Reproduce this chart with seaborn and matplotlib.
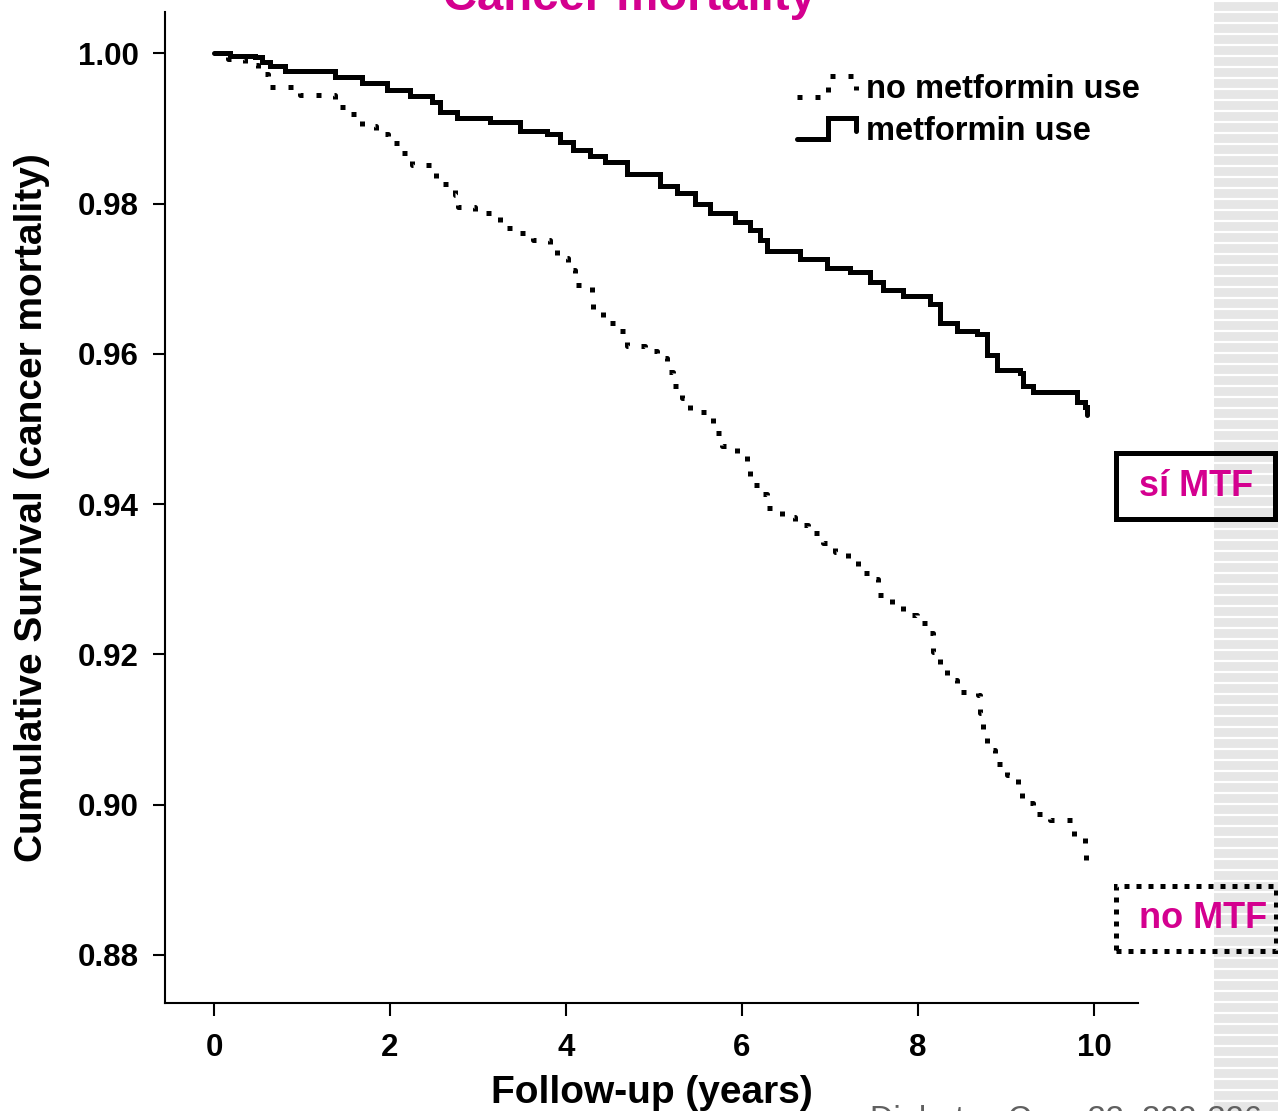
import matplotlib as mpl
mpl.use('Agg')
import matplotlib.pyplot as plt
from matplotlib.legend_handler import HandlerBase
from matplotlib.lines import Line2D
from matplotlib.patches import Rectangle
import numpy as np
import pandas as pd
import seaborn as sns

# Kaplan-Meier steps: time (years), survival after the step
metf_time = [0.0, 0.18, 0.47, 0.55, 0.64, 0.81, 1.38, 1.68, 1.97, 2.23, 2.48, 2.57,
             2.76, 3.14, 3.48, 3.78, 3.93, 4.08, 4.27, 4.44, 4.69, 5.07, 5.26, 5.47,
             5.64, 5.92, 6.09, 6.20, 6.28, 6.66, 6.97, 7.23, 7.45, 7.60, 7.83, 8.14,
             8.25, 8.44, 8.67, 8.78, 8.90, 9.16, 9.19, 9.31, 9.81, 9.90, 9.92]
metf_surv = [1.0000, 0.9997, 0.9995, 0.9988, 0.9983, 0.9977, 0.9968, 0.9961, 0.9951,
             0.9943, 0.9935, 0.9922, 0.9914, 0.9908, 0.9896, 0.9892, 0.9882, 0.9871,
             0.9864, 0.9855, 0.9840, 0.9824, 0.9814, 0.9800, 0.9788, 0.9775, 0.9765,
             0.9751, 0.9737, 0.9726, 0.9714, 0.9709, 0.9695, 0.9685, 0.9677, 0.9667,
             0.9641, 0.9630, 0.9626, 0.9598, 0.9578, 0.9574, 0.9557, 0.9549, 0.9536,
             0.9529, 0.9518]

nometf_time = [0.0, 0.16, 0.35, 0.50, 0.61, 0.98, 1.38, 1.55, 1.68, 1.84, 1.98, 2.14,
               2.25, 2.52, 2.74, 2.77, 2.97, 3.25, 3.44, 3.63, 3.82, 3.90, 4.02, 4.10,
               4.30, 4.31, 4.42, 4.59, 4.69, 4.90, 5.03, 5.15, 5.22, 5.32, 5.41, 5.61,
               5.67, 5.77, 5.94, 6.06, 6.09, 6.20, 6.28, 6.45, 6.60, 6.75, 6.92, 7.06,
               7.20, 7.32, 7.49, 7.55, 7.70, 7.83, 7.99, 8.14, 8.17, 8.25, 8.33, 8.44,
               8.68, 8.70, 8.74, 8.78, 8.88, 9.01, 9.14, 9.18, 9.31, 9.50, 9.77, 9.90,
               9.91]
nometf_surv = [1.0000, 0.9993, 0.9985, 0.9972, 0.9955, 0.9945, 0.9928, 0.9919, 0.9903,
               0.9892, 0.9880, 0.9867, 0.9851, 0.9826, 0.9811, 0.9796, 0.9788, 0.9767,
               0.9761, 0.9751, 0.9743, 0.9727, 0.9711, 0.9691, 0.9681, 0.9657, 0.9641,
               0.9631, 0.9611, 0.9604, 0.9594, 0.9576, 0.9557, 0.9541, 0.9522, 0.9514,
               0.9494, 0.9478, 0.9465, 0.9452, 0.9425, 0.9413, 0.9395, 0.9383, 0.9372,
               0.9361, 0.9348, 0.9336, 0.9324, 0.9308, 0.9301, 0.9279, 0.9266, 0.9252,
               0.9242, 0.9228, 0.9203, 0.9184, 0.9166, 0.9150, 0.9146, 0.9122, 0.9095,
               0.9073, 0.9054, 0.9039, 0.9025, 0.9002, 0.8987, 0.8980, 0.8955, 0.8937,
               0.8909]

groups = ['no metformin use', 'metformin use']
xticks = [0, 2, 4, 6, 8, 10]
yticks = [0.88, 0.90, 0.92, 0.94, 0.96, 0.98, 1.00]
title = 'Cancer mortality'
box_labels = ['sí MTF', 'no MTF']
source = 'Diabetes Care 33: 322-326'

magenta = '#d4008f'
LW = 3.6
DOTS = (0, (1, 2.6))

df = pd.concat([
    pd.DataFrame({'time': nometf_time, 'surv': nometf_surv, 'group': groups[0]}),
    pd.DataFrame({'time': metf_time, 'surv': metf_surv, 'group': groups[1]}),
], ignore_index=True)

sns.set_style('ticks')
plt.rcParams['font.family'] = ['Liberation Sans', 'DejaVu Sans']
plt.rcParams['font.weight'] = 'bold'
plt.rcParams['axes.labelweight'] = 'bold'
plt.rcParams['text.color'] = 'black'
plt.rcParams['axes.labelcolor'] = 'black'
plt.rcParams['xtick.color'] = 'black'
plt.rcParams['ytick.color'] = 'black'

fig = plt.figure(figsize=(12.78, 11.11), dpi=100)
ax = fig.add_axes([165/1278, 1 - 1003/1111, 973/1278, 991/1111])

sns.lineplot(data=df[df.group == groups[1]], x='time', y='surv', estimator=None,
             sort=False, drawstyle='steps-post', color='black', lw=LW, ax=ax,
             legend=False, solid_joinstyle='miter')
sns.lineplot(data=df[df.group == groups[0]], x='time', y='surv', estimator=None,
             sort=False, drawstyle='steps-post', color='black', lw=LW, ax=ax,
             legend=False, linestyle=DOTS, dash_capstyle='butt')

ax.set_xlim(-0.557, 10.5)
ax.set_ylim(0.8736, 1.0055)
ax.set_xticks(xticks)
ax.set_yticks(yticks)
ax.set_yticklabels(['%.2f' % v for v in yticks])
sns.despine(ax=ax)
for s in ['left', 'bottom']:
    ax.spines[s].set_linewidth(1.5)
    ax.spines[s].set_color('black')
ax.tick_params(axis='both', direction='out', length=9, width=1.5, labelsize=22.5,
               colors='black')
ax.tick_params(axis='x', pad=12.5)
ax.tick_params(axis='y', pad=10)

ax.set_xlabel('Follow-up (years)', fontsize=28, fontweight='bold', va='top')
ax.set_ylabel('Cumulative Survival (cancer mortality)', fontsize=28, fontweight='bold')
ax.xaxis.set_label_coords(0.5, -0.0725)
ax.yaxis.set_label_coords(-0.118, 0.5)


class StepHandler(HandlerBase):
    def __init__(self, ls):
        super().__init__()
        self.ls = ls

    def create_artists(self, legend, orig_handle, xdescent, ydescent, width, height,
                       fontsize, trans):
        x0, y0 = -xdescent, -ydescent
        xs = [x0, x0 + 0.52 * width, x0 + 0.52 * width, x0 + width, x0 + width]
        ys = [y0, y0, y0 + 1.0 * height, y0 + 1.0 * height, y0 + 0.35 * height]
        ln = Line2D(xs, ys, color='black', lw=LW, linestyle=self.ls,
                    solid_joinstyle='miter', dash_capstyle='butt', transform=trans)
        return [ln]


h_no = Line2D([], [], color='black')
h_yes = Line2D([], [], color='black', ls='--')
leg = fig.legend([h_no, h_yes], groups, loc='upper left',
                 bbox_to_anchor=(797/1278, 1 - 74/1111), frameon=False,
                 fontsize=23.5, handlelength=1.8, handleheight=0.6,
                 handletextpad=0.3, labelspacing=0.33, borderpad=0, borderaxespad=0,
                 handler_map={h_no: StepHandler(DOTS), h_yes: StepHandler('-')})

# striped band on the right edge
band = fig.add_axes([1214/1278, 0, 64/1278, 1], zorder=-1)
band.set_xlim(0, 1)
band.set_ylim(1111, 0)
band.axis('off')
band.add_patch(Rectangle((0, 0), 1, 1111, color='#e6e6e6'))
band.hlines(np.arange(1, 1111, 11), 0, 1, color='white', lw=1.6)

# label boxes
fig.add_artist(Rectangle((1115.5/1278, 1 - 518.5/1111), 159/1278, 66/1111,
                         transform=fig.transFigure, fill=False, ec='black',
                         lw=LW, zorder=5))
fig.add_artist(Rectangle((1115.5/1278, 1 - 950.5/1111), 160/1278, 65/1111,
                         transform=fig.transFigure, fill=False, ec='black',
                         lw=LW, ls=(0, (1, 1.4)), capstyle='butt', zorder=5))
fig.text(1196/1278, 1 - 487/1111, box_labels[0], ha='center', va='center',
         fontsize=26, fontweight='bold', color=magenta, zorder=6)
fig.text(1203/1278, 1 - 918/1111, box_labels[1], ha='center', va='center',
         fontsize=26, fontweight='bold', color=magenta, zorder=6)

fig.text(629/1278, 1 - 10/1111, title, ha='center', va='baseline', fontsize=34,
         fontweight='bold', color=magenta)
fig.text(870/1278, 1 - 1129/1111, source, ha='left', va='baseline', fontsize=23.5,
         fontweight='normal', color='#606060')

plt.savefig('out.png', dpi=100)
